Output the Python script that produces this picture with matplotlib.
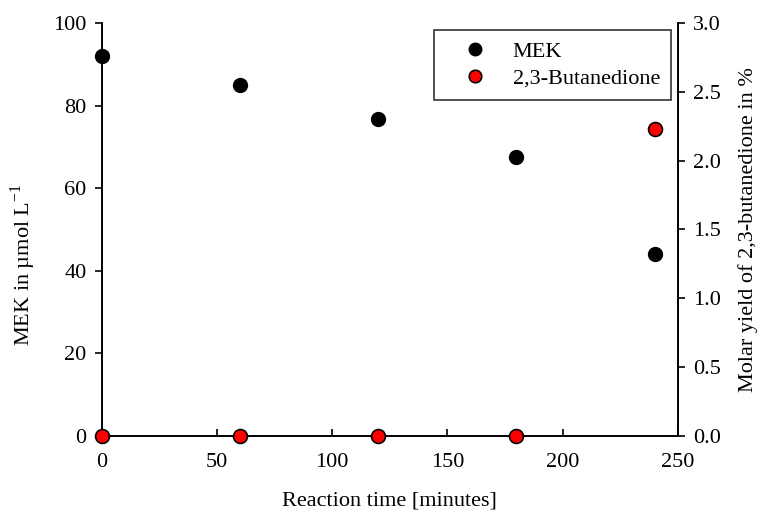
import matplotlib
matplotlib.use("Agg")
import matplotlib.pyplot as plt

# ----------------------------------------
# Data
# ----------------------------------------
time_min = [0, 60, 120, 180, 240]
mek = [92.0, 85.0, 76.8, 67.5, 44.0]
butanedione = [0.0, 0.0, 0.0, 0.0, 2.23]

plt.rcParams["font.family"] = ["Liberation Serif", "DejaVu Serif"]
plt.rcParams["font.size"] = 16
plt.rcParams["mathtext.fontset"] = "stix"

fig = plt.figure(figsize=(7.65, 5.2), dpi=100)
ax = fig.add_axes([0.133, 0.1615, 0.753, 0.7945])
ax2 = ax.twinx()

# MEK on left axis
h1, = ax.plot(time_min, mek, "o", color="black", markeredgecolor="black",
              markersize=10, clip_on=False, zorder=5, label="MEK")
# 2,3-butanedione on right axis
h2, = ax2.plot(time_min, butanedione, "o", color="red", markeredgecolor="black",
               markeredgewidth=1.2, markersize=10, clip_on=False, zorder=5,
               label="2,3-Butanedione")

ax.set_xlim(0, 250)
ax.set_ylim(0, 100)
ax2.set_ylim(0, 3.0)
ax.set_xticks([0, 50, 100, 150, 200, 250])
ax.set_yticks([0, 20, 40, 60, 80, 100])
ax2.set_yticks([0.0, 0.5, 1.0, 1.5, 2.0, 2.5, 3.0])
ax2.set_yticklabels(["0.0", "0.5", "1.0", "1.5", "2.0", "2.5", "3.0"])

for a in (ax, ax2):
    a.spines["top"].set_visible(False)
    for s in a.spines.values():
        s.set_linewidth(1.2)
ax.tick_params(axis="x", direction="in", length=5, width=1.2, pad=12)
ax.tick_params(axis="y", direction="out", length=5, width=1.2, pad=6)
ax2.tick_params(axis="y", direction="out", length=5, width=1.2, pad=6)

ax.set_xlabel("Reaction time [minutes]", labelpad=14)
ax.set_ylabel("MEK in µmol L$^{\\mathregular{-1}}$")
ax.yaxis.set_label_coords(-0.111, 0.415)
ax2.set_ylabel("Molar yield of 2,3-butanedione in %", labelpad=12)

leg = ax2.legend(handles=[h1, h2], loc="upper right",
                 bbox_to_anchor=(671 / 765, 1 - 30 / 520),
                 bbox_transform=fig.transFigure, borderaxespad=0,
                 frameon=True, fancybox=False, edgecolor="black",
                 handlelength=2.7, handletextpad=0.35, borderpad=0.5,
                 labelspacing=0.3, markerscale=0.9)
leg.get_frame().set_linewidth(1.2)

plt.savefig("out.png", dpi=100)
